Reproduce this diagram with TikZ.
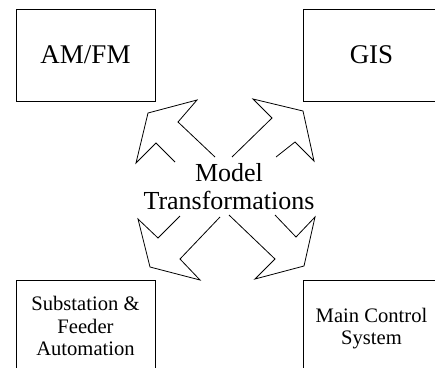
\documentclass[tikz,border=0pt]{standalone}
\usepackage{fontspec}
\setmainfont{Liberation Serif}
\usepackage{tikz}
\usetikzlibrary{positioning,calc}

\begin{document}
\begin{tikzpicture}[x=1pt, y=-1pt,
  box/.style={draw, line width=0.8pt, inner sep=0pt, align=center},
  bigtext/.style={font=\fontsize{27}{28}\selectfont},
  smalltext/.style={font=\fontsize{20.6}{22.6}\selectfont},
  fatarrow/.style={draw, line width=0.8pt, line join=miter}]
  \useasboundingbox (0,0) rectangle (435,367);

  % system boxes
  \node[box, bigtext, minimum width=139pt, minimum height=92pt] (amfm) at (85.5,55) {AM/FM};
  \node[box, bigtext, minimum width=137pt, minimum height=92pt] (gis) at (371.5,55) {GIS};
  \node[box, smalltext, minimum width=139pt, minimum height=92pt] (sub) at (85.5,326) {Substation \&\\Feeder\\Automation};
  \node[box, smalltext, minimum width=137pt, minimum height=97pt] (mcs) at (371.5,328.5) {Main Control\\System};

  % centre text
  \node[align=center, inner sep=0pt, font=\fontsize{26}{28}\selectfont] (model) at (229,187) {Model\\Transformations};

  % hollow arrows out of the centre
  \draw[fatarrow] (175,162) -- (156,143) -- (136,163) -- (148,113) -- (197,100) -- (178,122) -- (215,157);
  \draw[fatarrow] (232,157) -- (272,118) -- (253,99) -- (303,111) -- (314,161) -- (295,142) -- (276,157);
  \draw[fatarrow] (180,216) -- (158,238) -- (138,219) -- (150,267) -- (200,280) -- (180,259) -- (220,217);
  \draw[fatarrow] (229,215) -- (275,259) -- (255,279) -- (304,266) -- (315,217) -- (296,237) -- (275,215);
\end{tikzpicture}
\end{document}
